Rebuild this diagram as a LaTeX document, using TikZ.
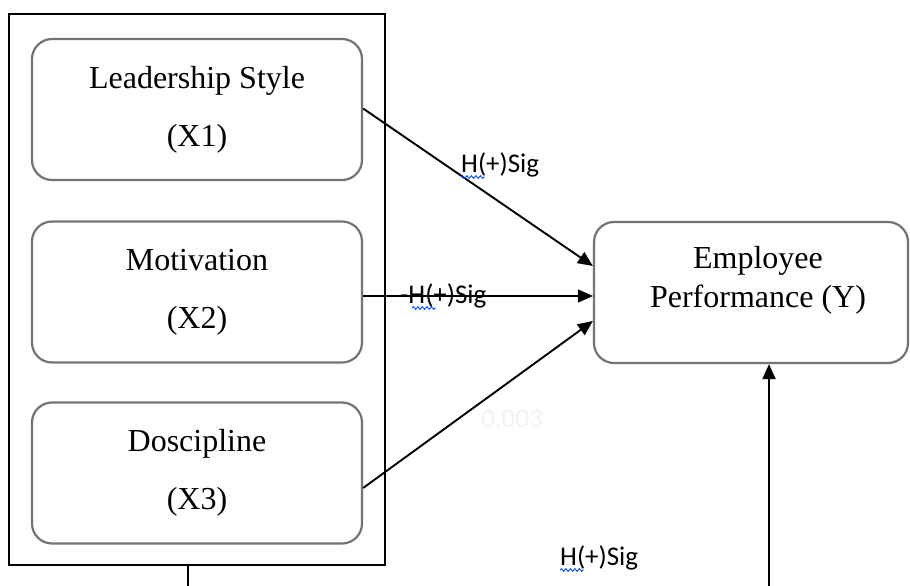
\documentclass[tikz,border=0pt]{standalone}
\usepackage{fontspec}
\setmainfont{Liberation Serif}
\newfontfamily\lblfont{Carlito}
\usetikzlibrary{arrows.meta,decorations.pathmorphing}

\tikzset{
  varbox/.style={draw=black!55, line width=2.2pt, rounded corners=20pt, fill=white,
    minimum width=330pt, minimum height=141pt, inner sep=0pt, align=center,
    font=\fontsize{32}{58}\selectfont},
  groupbox/.style={draw=black, line width=1.6pt, minimum width=376pt, minimum height=551pt, inner sep=0pt},
  outbox/.style={draw=black!55, line width=2.2pt, rounded corners=20pt,
    minimum width=314pt, minimum height=141pt, inner sep=0pt},
  outtext/.style={align=center, inner sep=0pt, font=\fontsize{32}{39}\selectfont},
  arr/.style={draw=black, line width=1.9pt, -{Triangle[length=15pt,width=13pt]}},
  hlabel/.style={font=\lblfont\fontsize{27}{32}\selectfont, inner sep=0pt, anchor=base west},
  faint/.style={font=\lblfont\fontsize{27}{32}\selectfont, inner sep=0pt, text=black!5},
  squig/.style={draw=blue!70!cyan, line width=0.9pt,
    decorate, decoration={snake, amplitude=1.3pt, segment length=4.5pt}}
}

\begin{document}
\begin{tikzpicture}[x=1pt, y=-1pt]
  \useasboundingbox (0,0) rectangle (910,586);
  \clip (0,0) rectangle (910,586);

  % grouping frame around the three predictors
  \node[groupbox] (grp) at (197,289.5) {};

  % predictor variables
  \node[varbox] (ls) at (197,109.5) {Leadership Style\\(X1)};
  \node[varbox] (mo) at (197,292) {Motivation\\(X2)};
  \node[varbox] (dc) at (197,473) {Doscipline\\(X3)};

  % dependent variable
  \node[outbox] (ey) at (751,292.5) {};
  \node[outtext] (eyt) at (758,280) {Employee\\Performance (Y)};

  % direct paths
  \draw[arr] ([yshift=1pt]ls.east) -- ([yshift=26.5pt]ey.west);
  \draw[arr] ([yshift=-4pt]mo.east) -- ([yshift=-3.5pt]ey.west);
  \draw[arr] ([yshift=-15pt]dc.east) -- ([yshift=-28.5pt]ey.west);

  % joint path from the group to Y
  \coordinate (low) at (0,640);
  \draw[arr] ([xshift=-9pt]grp.south) |- ([xshift=18pt]ey.south |- low)
    -- ([xshift=18pt]ey.south);

  % path labels
  \node[hlabel] (h1) at (461,172) {H(+)Sig};
  \node[hlabel] (h2) at (400,303) {-H(+)Sig};
  \node[hlabel] (h3) at (560,565) {H(+)Sig};
  \draw[squig] ([yshift=-5pt]h1.base west) -- ++(24,0);
  \draw[squig] ([xshift=12pt,yshift=-5pt]h2.base west) -- ++(24,0);
  \draw[squig] ([yshift=-5pt]h3.base west) -- ++(24,0);

  % faded coefficient
  \node[faint] (cf) at (512,420) {0,003};
\end{tikzpicture}
\end{document}
